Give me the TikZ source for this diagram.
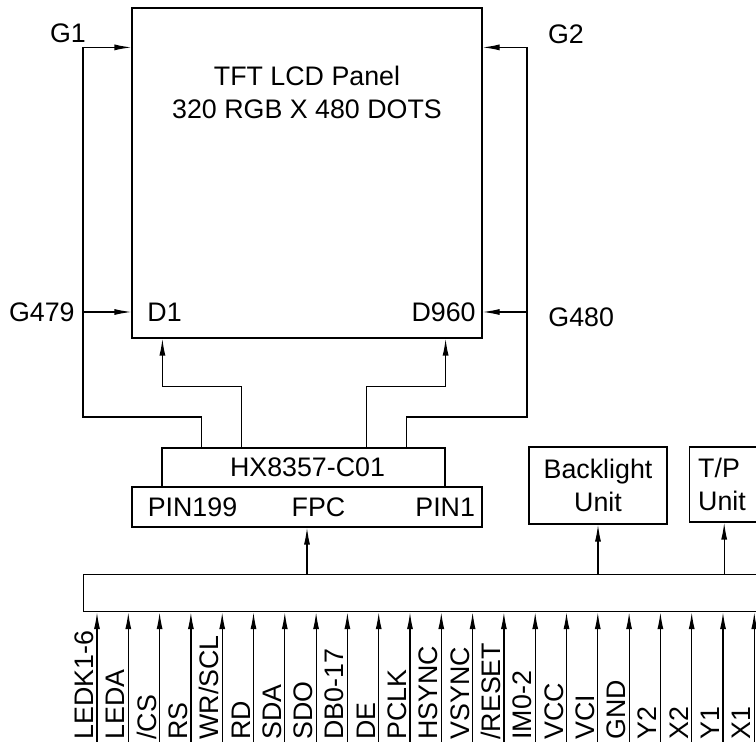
\documentclass[tikz,border=0pt]{standalone}
\usepackage{fontspec}
\setmainfont{Liberation Sans}
\usetikzlibrary{positioning,arrows.meta}

\begin{document}
\begin{tikzpicture}[x=0.5pt, y=-0.5pt,
    every node/.style={font=\fontsize{13.4}{16.5}\selectfont},
    box/.style={draw, line width=0.6pt, inner sep=0pt},
    wire/.style={line width=0.6pt},
    arr/.style={wire, -{Latex[length=8.5pt,width=3pt]}},
    pinlabel/.style={rotate=90, anchor=base west, inner sep=0pt}]

    \useasboundingbox (0,0) rectangle (756,742);
    \clip (0,0) rectangle (756,742);

    % panel
    \node (panel) [box, minimum width=175pt, minimum height=165pt] at (307,173) {};
    \node (title) [align=center] at (307,92) {TFT LCD Panel\\320 RGB X 480 DOTS};
    \node (d1) [anchor=west, inner sep=0pt] at (147,312) {D1};
    \node (d960) [anchor=east, inner sep=0pt] at (476,312) {D960};
    \node (g1) at (68,33) {G1};
    \node (g2) at (566,34) {G2};
    \node (g479) [anchor=east, inner sep=0pt] at (75,312) {G479};
    \node (g480) [anchor=west, inner sep=0pt] at (548,317) {G480};

    % driver and FPC
    \node (hx) [box, minimum width=141.5pt, minimum height=19.5pt] at (303.5,467.5) {\hspace{4pt}HX8357-C01};
    \node (fpc) [box, minimum width=175pt, minimum height=20pt] at (307,507) {};
    \node (pin199) [anchor=west, inner sep=0pt] at ([xshift=8pt]fpc.west) {PIN199};
    \node (fpclab) at (318.5,507) {FPC};
    \node (pin1) [anchor=west, inner sep=0pt] at (415,507) {PIN1};

    % units
    \node (bl) [box, minimum width=69pt, minimum height=38.5pt, align=center] at (598,485.5) {Backlight\\Unit};
    \node (tp) [box, minimum width=35pt, minimum height=37.5pt,
        text width=26pt, inner xsep=4.5pt, align=left, right=10.5pt of bl.north east, anchor=north west] {T/P\\Unit};

    % bus
    \node (bus) [box, anchor=north west, minimum width=400pt, minimum height=18.5pt] at (83,574) {};

    % gate and source lines
    \coordinate (lbend) at (83,417);
    \coordinate (rbend) at (527,417);
    \draw[arr] ([xshift=20pt]hx.north west) |- (lbend) |- ([yshift=-20pt]panel.north west);
    \draw[arr] ([xshift=-19.5pt]hx.north east) |- (rbend) |- ([yshift=-20pt]panel.north east);
    \draw[arr] ([xshift=40pt]hx.north west) -- ++(0,-61) -| ([xshift=15.5pt]panel.south west);
    \draw[arr] ([xshift=-39.5pt]hx.north east) -- ++(0,-61) -| ([xshift=-18.5pt]panel.south east);
    \draw[arr] (lbend |- d1) -- (panel.west |- d1);
    \draw[arr] (rbend |- d960) -- (panel.east |- d960);

    \draw[arr] (bus.north -| fpc.south) -- (fpc.south);
    \draw[arr] (bus.north -| bl.south) -- (bl.south);
    \draw[arr] (bus.north -| tp.south) -- (tp.south);

    % interface pins
    \foreach \lab [count=\i from 0] in {LEDK1-6, LEDA, /CS, RS, WR/SCL, RD, SDA, SDO, DB0-17, DE, PCLK, HSYNC, VSYNC, /RESET, IM0-2, VCC, VCI, GND, Y2, X2, Y1, X1} {
        \coordinate (pin\i) at (97+31.3*\i,742);
        \draw[arr] (pin\i) -- (pin\i |- bus.south);
        \node (lab\i) [pinlabel] at (93.5+31.3*\i,740) {\lab};
    }
\end{tikzpicture}
\end{document}
